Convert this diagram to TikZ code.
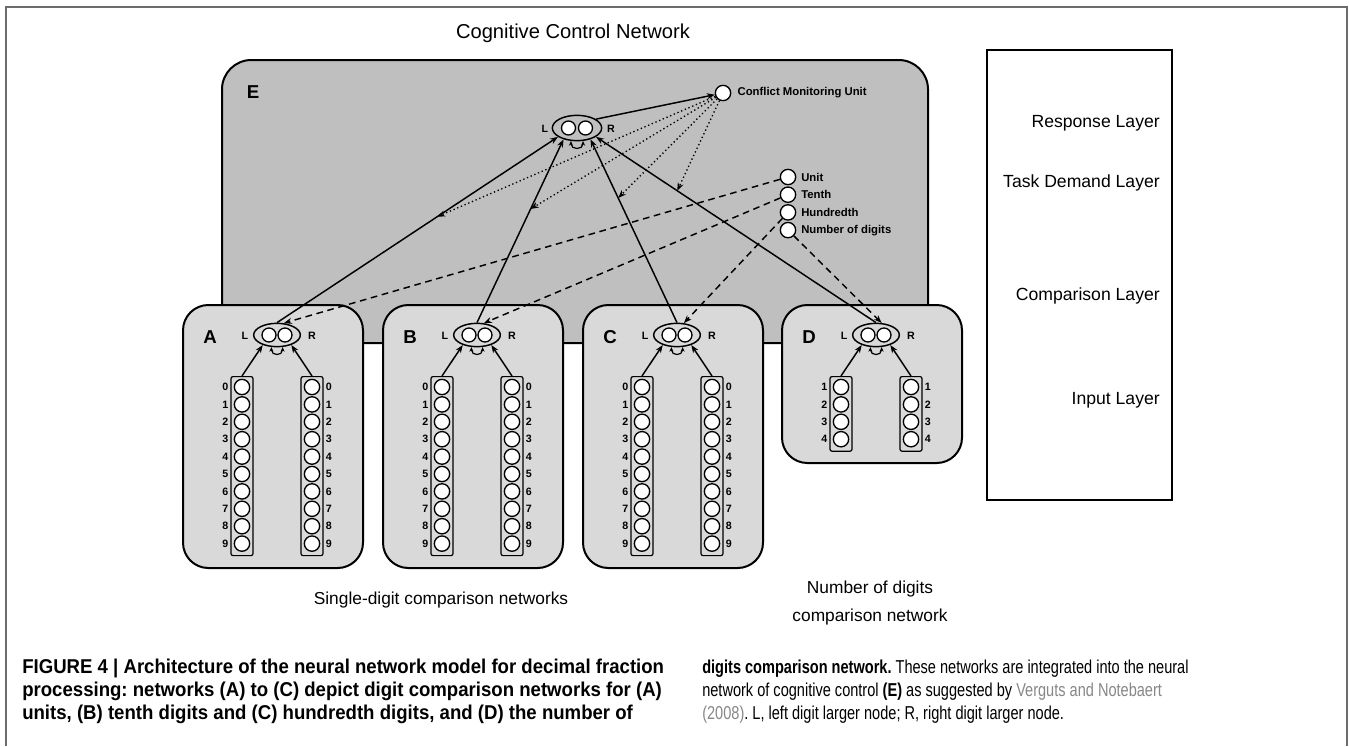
\documentclass[tikz,border=0pt]{standalone}
\usepackage{fontspec}
\setmainfont{Liberation Sans}
\newfontfamily\capboldfont[FakeStretch=0.93]{Liberation Sans}
\newfontfamily\caplightfont[FakeStretch=0.78]{Liberation Sans}
\usepackage{tikz}
\usetikzlibrary{shapes,arrows,arrows.meta,positioning,calc}
\frenchspacing

\definecolor{ctrlGray}{RGB}{191,191,191}
\definecolor{netGray}{RGB}{217,217,217}
\definecolor{citeGray}{RGB}{135,135,135}

\tikzset{
  frame/.style={draw=gray!85!black, line width=0.9pt},
  ctrlpanel/.style={fill=ctrlGray, draw=black, line width=1.5pt, rounded corners=22pt},
  netpanel/.style={fill=netGray, draw=black, line width=1.5pt, rounded corners=19pt},
  unit/.style={circle, draw, fill=white, line width=1pt, minimum size=11.5pt, inner sep=0pt},
  pairunit/.style={minimum size=10.5pt},
  pairbox/.style={ellipse, draw, line width=1.1pt, minimum width=35pt, minimum height=17.5pt, inner sep=0pt},
  column/.style={draw, line width=0.9pt, rounded corners=1.5pt, minimum width=16.5pt, inner sep=0pt},
  feed/.style={line width=1.1pt, -{Stealth[length=6pt,width=4.5pt]}},
  ctrl/.style={line width=1pt, dotted, -{Stealth[length=6pt,width=4.5pt]}},
  task/.style={line width=1.1pt, dash pattern=on 5pt off 3.5pt, -{Stealth[length=6pt,width=4.5pt]}},
  inhib/.style={line width=0.9pt, {Stealth[length=3.5pt,width=3pt]}-{Stealth[length=3.5pt,width=3pt]}},
  letter/.style={font=\bfseries\fontsize{14}{16}\selectfont, inner sep=0pt},
  lr/.style={font=\bfseries\fontsize{8}{10}\selectfont, inner sep=0pt},
  tag/.style={font=\bfseries\fontsize{8.5}{10}\selectfont, inner sep=0pt},
  digit/.style={font=\bfseries\fontsize{8}{10}\selectfont, inner sep=0pt},
  layer/.style={font=\fontsize{13.2}{15}\selectfont, inner sep=0pt, anchor=east},
  bigtxt/.style={font=\fontsize{15.1}{17}\selectfont, inner sep=0pt},
  subtxt/.style={font=\fontsize{13}{21.5}\selectfont, align=center, inner sep=0pt},
  capbold/.style={font=\capboldfont\bfseries\fontsize{15}{17}\selectfont, inner sep=0pt, anchor=base west},
  caplight/.style={font=\caplightfont\fontsize{14}{17}\selectfont, inner sep=0pt, anchor=base west}
}

\begin{document}
\begin{tikzpicture}[x=0.75pt,y=0.75pt,yscale=-1,xscale=1]
    \useasboundingbox (0,0) rectangle (1349,746);

    % Frame
    \draw[frame] (6,746) -- (6,7) -- (1347,7) -- (1347,746);

    % Cognitive control network (E)
    \node[bigtxt] (title) at (573,33) {Cognitive Control Network};
    \draw[ctrlpanel] (222,60) rectangle (928,343);
    \node[letter] (lblE) at (253,92) {E};

    % Comparison networks (A)-(D)
    \foreach \p/\px/\pb/\first/\last in {A/183/568/0/9, B/383/568/0/9, C/583/568/0/9, D/782/463/1/4} {
        \pgfmathsetmacro\colh{((\last-\first+1)*17.4+5)*0.75}
        \draw[netpanel] (\px,305) rectangle (\px+180,\pb);
        \node[letter] (lbl\p) at (\px+27,337) {\p};
        % comparison layer
        \node[pairbox] (cmp\p) at (\px+94,335) {};
        \node[unit,pairunit] (cmp\p-l) at (\px+86,335) {};
        \node[unit,pairunit] (cmp\p-r) at (\px+102,335) {};
        \node[lr] (L\p) at (\px+62,336) {L};
        \node[lr] (R\p) at (\px+129,336) {R};
        \draw[inhib] (cmp\p.-115) .. controls +(0,9) and +(0,9) .. (cmp\p.-65);
        % input layer
        \node[column, minimum height=\colh pt, anchor=north] (col\p-l) at (\px+59,376) {};
        \node[column, minimum height=\colh pt, anchor=north] (col\p-r) at (\px+129,376) {};
        \foreach \d [count=\k from 0] in {\first,...,\last} {
            \node[unit] (in\p-l\d) at (\px+59,387+17.4*\k) {};
            \node[unit] (in\p-r\d) at (\px+129,387+17.4*\k) {};
            \node[digit, anchor=east] at (\px+45.5,387+17.4*\k) {\d};
            \node[digit, anchor=west] at (\px+142.5,387+17.4*\k) {\d};
        }
        \draw[feed] (col\p-l.north) -- (cmp\p.-145);
        \draw[feed] (col\p-r.north) -- (cmp\p.-35);
    }

    % Response layer
    \node[pairbox, minimum width=37pt, minimum height=19pt] (resp) at (577,128) {};
    \node[unit,pairunit] (resp-l) at (568.5,128) {};
    \node[unit,pairunit] (resp-r) at (585.5,128) {};
    \node[lr] (Lresp) at (545,129) {L};
    \node[lr] (Rresp) at (611,129) {R};
    \draw[inhib] (resp.-115) .. controls +(0,9) and +(0,9) .. (resp.-65);

    % Conflict monitoring
    \node[unit] (conf) at (723,93) {};
    \node[tag, right=4.5pt of conf] (confLbl) {Conflict Monitoring Unit};

    % Task demand layer
    \node[unit] (tUnit) at (788,177) {};
    \node[unit] (tTenth) at (788,194.7) {};
    \node[unit] (tHund) at (788,212.4) {};
    \node[unit] (tNum) at (788,230.1) {};
    \node[tag, right=3.5pt of tUnit] (tUnitLbl) {Unit};
    \node[tag, right=3.5pt of tTenth] (tTenthLbl) {Tenth};
    \node[tag, right=3.5pt of tHund] (tHundLbl) {Hundredth};
    \node[tag, right=3.5pt of tNum] (tNumLbl) {Number of digits};

    % Comparison -> response
    \draw[feed] (cmpA.north) -- coordinate[pos=0.57] (gA) (resp.-155);
    \draw[feed] (cmpB.north) -- coordinate[pos=0.62] (gB) (resp.-140);
    \draw[feed] (cmpC.north) -- coordinate[pos=0.68] (gC) (resp.-40);
    \draw[feed] (cmpD.north) -- coordinate[pos=0.71] (gD) (resp.-25);
    \draw[feed] (resp.25) -- (conf);

    % Conflict -> gates
    \foreach \g in {gA,gB,gC,gD}
        \draw[ctrl] (conf) -- (\g);

    % Task demand -> comparison
    \draw[task] (tUnit) -- (cmpA.60);
    \draw[task] (tTenth) -- (cmpB.60);
    \draw[task] (tHund) -- (cmpC.60);
    \draw[task] (tNum) -- (cmpD.65);

    % Layer box
    \draw[line width=2pt] (987,50) rectangle (1172,500);
    \node[layer] (lyResp) at (1160,123) {Response Layer};
    \node[layer] (lyTask) at (1160,183) {Task Demand Layer};
    \node[layer] (lyComp) at (1160,296) {Comparison Layer};
    \node[layer] (lyInput) at (1160,400) {Input Layer};

    % Text Node
    \node[subtxt] (single) at (441,600) {Single-digit comparison networks};
    \node[subtxt] (numdig) at (870,603) {Number of digits\\comparison network};

    % Caption
    \node[capbold] (capL1) at (22,673) {FIGURE 4 | Architecture of the neural network model for decimal fraction};
    \node[capbold] (capL2) at (22,696) {processing: networks (A) to (C) depict digit comparison networks for (A)};
    \node[capbold] (capL3) at (22,719) {units, (B) tenth digits and (C) hundredth digits, and (D) the number of};
    \node[caplight] (capR1) at (702,673) {\bfseries digits comparison network.\mdseries{} These networks are integrated into the neural};
    \node[caplight] (capR2) at (702,696) {network of cognitive control \textbf{(E)} as suggested by \textcolor{citeGray}{Verguts and Notebaert}};
    \node[caplight] (capR3) at (702,719) {\textcolor{citeGray}{(2008)}. L, left digit larger node; R, right digit larger node.};

\end{tikzpicture}
\end{document}
